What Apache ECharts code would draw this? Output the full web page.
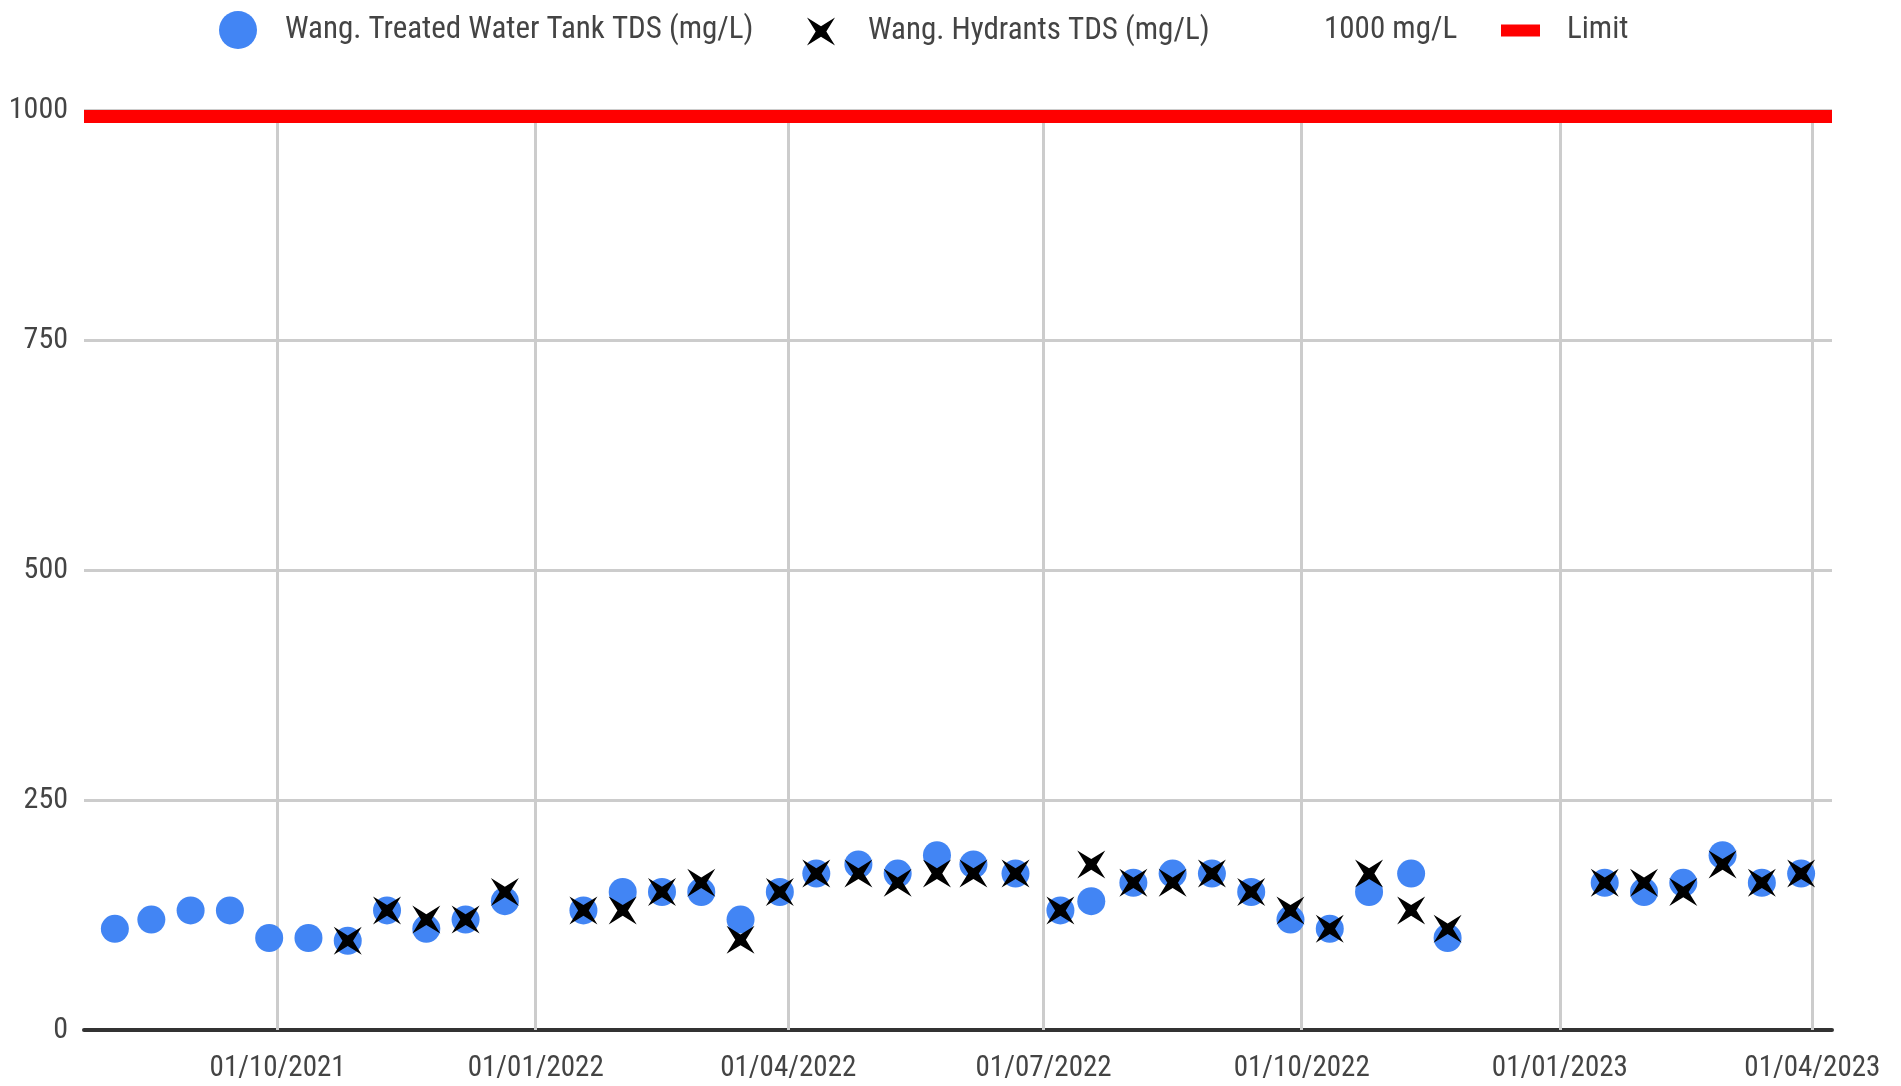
<!DOCTYPE html>
<html>
<head>
<meta charset="utf-8">
<script src="https://cdn.jsdelivr.net/npm/echarts@6/dist/echarts.min.js"></script>
<style>
  html, body { margin: 0; padding: 0; background: #fff; }
  #chart { width: 1901px; height: 1086px; }
</style>
</head>
<body>
<div id="chart"></div>
<script>
// sample dates (fortnightly)
const sampleDates = [
  '2021-08-04', '2021-08-17', '2021-08-31', '2021-09-14', '2021-09-28', '2021-10-12',
  '2021-10-26', '2021-11-09', '2021-11-23', '2021-12-07', '2021-12-21',
  '2022-01-18', '2022-02-01', '2022-02-15', '2022-03-01', '2022-03-15', '2022-03-29',
  '2022-04-11', '2022-04-26', '2022-05-10', '2022-05-24', '2022-06-06', '2022-06-21',
  '2022-07-07', '2022-07-18', '2022-08-02', '2022-08-16', '2022-08-30', '2022-09-13',
  '2022-09-27', '2022-10-11', '2022-10-25', '2022-11-09', '2022-11-22',
  '2023-01-17', '2023-01-31', '2023-02-14', '2023-02-28', '2023-03-14', '2023-03-28'
];

// Wang. Treated Water Tank TDS (mg/L)
const tankTds = [
  110, 120, 130, 130, 100, 100,
  97, 130, 110, 120, 140,
  130, 150, 150, 150, 120, 150,
  170, 180, 170, 190, 180, 170,
  130, 140, 160, 170, 170, 150,
  120, 110, 150, 170, 100,
  160, 150, 160, 190, 160, 170
];

// Wang. Hydrants TDS (mg/L) — no readings for the first six dates
const hydrantTds = [
  null, null, null, null, null, null,
  97, 130, 120, 120, 150,
  130, 130, 150, 160, 98, 150,
  170, 170, 160, 170, 170, 170,
  130, 180, 160, 160, 170, 150,
  130, 110, 170, 130, 110,
  160, 160, 150, 180, 160, 170
];

// limit line: drawn across the whole date range
const limitDates = ['2021-07-24', '2023-04-08'];
const limitValues = [993, 993];

// quarter ticks on the date axis
const quarterTicks = ['2021-10-01', '2022-01-01', '2022-04-01', '2022-07-01', '2022-10-01', '2023-01-01', '2023-04-01'];

const legendNames = ['Wang. Treated Water Tank TDS (mg/L)', 'Wang. Hydrants TDS (mg/L)', '1000 mg/L', 'Limit'];

const FONT = "'Roboto Condensed', 'Liberation Sans Narrow', Roboto, sans-serif";
// tapered "x" marker
const X_ICON = 'path://M0,0 L5,3.1 L10,0 L6.9,5 L10,10 L5,6.9 L0,10 L3.1,5 Z';

// '2021-10-01' -> '01/10/2021'
function fmtDate(s) {
  const p = s.split('-');
  return p[2] + '/' + p[1] + '/' + p[0];
}

const tankData = sampleDates.map((d, i) => [d, tankTds[i]]);
const hydrantData = sampleDates.map((d, i) => [d, hydrantTds[i]]).filter(p => p[1] !== null);
const limitData = limitDates.map((d, i) => [d, limitValues[i]]);

// vertical grid lines + date labels at quarter starts
const quarterLines = quarterTicks.map(d => ({ xAxis: d, name: fmtDate(d) }));

const legendText = { fontFamily: FONT, fontSize: 31, color: '#444' };

const chart = echarts.init(document.getElementById('chart'));
chart.setOption({
  animation: false,
  textStyle: { fontFamily: FONT },
  legend: [
    {
      data: [{ name: legendNames[0], icon: 'circle' }],
      left: 219, top: 11, padding: 0, itemWidth: 38, itemHeight: 38,
      textStyle: Object.assign({ padding: [0, 0, 0, 23] }, legendText)
    },
    {
      data: [{ name: legendNames[1], icon: X_ICON }],
      left: 807, top: 16, padding: 0, itemWidth: 28, itemHeight: 28,
      textStyle: Object.assign({ padding: [0, 0, 0, 28] }, legendText)
    },
    {
      data: [{ name: legendNames[2], icon: 'rect' }],
      left: 1294, top: 15, padding: 0, itemWidth: 25, itemHeight: 12,
      itemStyle: { color: 'rgba(0,0,0,0)', borderWidth: 0 },
      textStyle: legendText
    },
    {
      data: [{ name: legendNames[3], icon: 'rect' }],
      left: 1501, top: 15, padding: 0, itemWidth: 39, itemHeight: 12,
      itemStyle: { borderWidth: 0 },
      textStyle: Object.assign({ padding: [0, 0, 0, 22] }, legendText)
    }
  ],
  grid: { left: 84, right: 69, top: 110, bottom: 56, containLabel: false, outerBoundsMode: 'none' },
  xAxis: {
    type: 'time',
    min: limitDates[0],
    max: limitDates[1],
    axisLine: { show: true, lineStyle: { color: '#333', width: 4 } },
    axisTick: { show: false },
    axisLabel: { show: false },
    splitLine: { show: false }
  },
  yAxis: {
    type: 'value',
    min: 0, max: 1000, interval: 250,
    axisLine: { show: false },
    axisTick: { show: false },
    axisLabel: { fontFamily: FONT, fontSize: 30, color: '#444', margin: 16, formatter: v => String(v) },
    splitLine: { show: true, lineStyle: { color: '#cccccc', width: 3 } }
  },
  series: [
    {
      name: legendNames[0],
      type: 'scatter',
      symbol: 'circle',
      symbolSize: 28,
      itemStyle: { color: '#4285f4', opacity: 1 },
      data: tankData,
      z: 3
    },
    {
      name: legendNames[1],
      type: 'scatter',
      symbol: X_ICON,
      symbolSize: 28,
      itemStyle: { color: '#000000', opacity: 1 },
      data: hydrantData,
      z: 4
    },
    {
      name: legendNames[2],
      type: 'line',
      showSymbol: false,
      itemStyle: { color: 'rgba(0,0,0,0)' },
      data: []
    },
    {
      name: legendNames[3],
      type: 'line',
      showSymbol: false,
      symbol: 'none',
      itemStyle: { color: '#ff0000' },
      lineStyle: { color: '#ff0000', width: 13, cap: 'butt' },
      data: limitData,
      z: 5,
      markLine: {
        silent: true,
        z: 1,
        symbol: ['none', 'none'],
        animation: false,
        lineStyle: { color: '#cccccc', width: 3, type: 'solid' },
        label: {
          show: true, position: 'start', formatter: '{b}', distance: 24,
          fontFamily: FONT, fontSize: 29, color: '#444'
        },
        emphasis: { disabled: true },
        data: quarterLines
      }
    }
  ]
});
</script>
</body>
</html>
